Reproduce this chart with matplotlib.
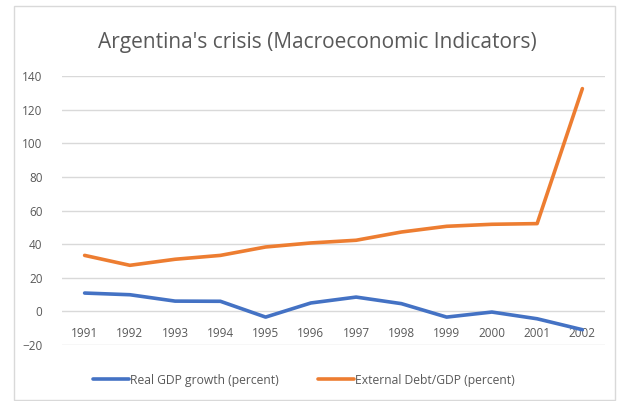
import matplotlib
matplotlib.use("Agg")
import matplotlib.pyplot as plt
from matplotlib.patches import Rectangle

years = [1991, 1992, 1993, 1994, 1995, 1996, 1997, 1998, 1999, 2000, 2001, 2002]
gdp_growth = [10.9, 9.9, 6.1, 6.0, -3.4, 5.0, 8.5, 4.6, -3.4, -0.4, -4.4, -10.9]
debt_gdp = [33.3, 27.4, 31.0, 33.3, 38.3, 40.7, 42.3, 47.2, 50.6, 51.8, 52.2, 132.5]
yticks = [-20, 0, 20, 40, 60, 80, 100, 120, 140]
title = "Argentina's crisis (Macroeconomic Indicators)"
labels = ["Real GDP growth (percent)", "External Debt/GDP (percent)"]

plt.rcParams['font.family'] = ['Open Sans', 'DejaVu Sans']
gray = '#595959'

fig = plt.figure(figsize=(6.2, 4.01), dpi=100)
fig.patch.set_facecolor('white')
fig.add_artist(Rectangle((14/620, 1/401), 601/620, 394/401, transform=fig.transFigure,
                         facecolor='none', edgecolor='#d9d9d9', lw=1))

ax = fig.add_axes([62/620, (401-345)/401, 543/620, 269/401])
ax.set_xlim(1990.5, 2002.5)
ax.set_ylim(-20, 140)
ax.set_yticks(yticks)
ax.set_xticks(years)
ax.set_xticklabels([str(y) for y in years])
for s in ['top', 'right', 'left', 'bottom']:
    ax.spines[s].set_visible(False)
ax.grid(axis='y', color='#d9d9d9', lw=1)
ax.set_axisbelow(True)
ax.tick_params(axis='y', length=0, pad=14, labelsize=8.5, labelcolor=gray)
ax.tick_params(axis='x', length=0, pad=11, labelsize=8.5, labelcolor=gray)
ax.spines['bottom'].set_position(('data', 0))

l1, = ax.plot(years, gdp_growth, color='#4472C4', lw=2.6, solid_capstyle='round', solid_joinstyle='round')
l2, = ax.plot(years, debt_gdp, color='#ED7D31', lw=2.6, solid_capstyle='round', solid_joinstyle='round')

fig.text(0.512, 0.893, title, ha='center', va='center', fontsize=15, color=gray)

fig.legend([l1, l2], labels, loc='center', bbox_to_anchor=(0.49, 0.052), ncol=2,
           frameon=False, fontsize=8.7, labelcolor=gray, handlelength=3.0,
           handletextpad=0.1, columnspacing=3.2)

fig.savefig('out.png', dpi=100)
